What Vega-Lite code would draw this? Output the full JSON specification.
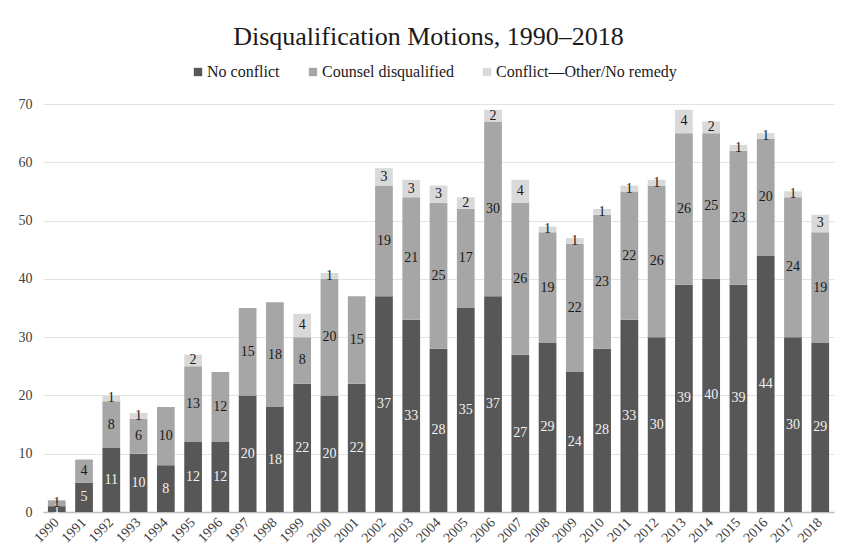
{
  "$schema": "https://vega.github.io/schema/vega-lite/v6.json",
  "autosize": {"type": "none"},
  "width": 791,
  "height": 408,
  "padding": {"left": 43, "top": 104, "right": 10, "bottom": 44},
  "background": "white",
  "config": {
    "font": "'Liberation Serif', 'DejaVu Serif', serif",
    "view": {"stroke": null}
  },
  "title": {
    "text": "Disqualification Motions, 1990–2018",
    "fontSize": 26,
    "fontWeight": "normal",
    "color": "#1a1a1a",
    "anchor": "middle",
    "dx": -10,
    "offset": 14
  },
  "data": {
    "values": [
      {"year": "1990", "cat": "No conflict", "k": 0, "n": 1},
      {"year": "1990", "cat": "Counsel disqualified", "k": 1, "n": 1},
      {"year": "1991", "cat": "No conflict", "k": 0, "n": 5},
      {"year": "1991", "cat": "Counsel disqualified", "k": 1, "n": 4},
      {"year": "1992", "cat": "No conflict", "k": 0, "n": 11},
      {"year": "1992", "cat": "Counsel disqualified", "k": 1, "n": 8},
      {"year": "1992", "cat": "Conflict—Other/No remedy", "k": 2, "n": 1},
      {"year": "1993", "cat": "No conflict", "k": 0, "n": 10},
      {"year": "1993", "cat": "Counsel disqualified", "k": 1, "n": 6},
      {"year": "1993", "cat": "Conflict—Other/No remedy", "k": 2, "n": 1},
      {"year": "1994", "cat": "No conflict", "k": 0, "n": 8},
      {"year": "1994", "cat": "Counsel disqualified", "k": 1, "n": 10},
      {"year": "1995", "cat": "No conflict", "k": 0, "n": 12},
      {"year": "1995", "cat": "Counsel disqualified", "k": 1, "n": 13},
      {"year": "1995", "cat": "Conflict—Other/No remedy", "k": 2, "n": 2},
      {"year": "1996", "cat": "No conflict", "k": 0, "n": 12},
      {"year": "1996", "cat": "Counsel disqualified", "k": 1, "n": 12},
      {"year": "1997", "cat": "No conflict", "k": 0, "n": 20},
      {"year": "1997", "cat": "Counsel disqualified", "k": 1, "n": 15},
      {"year": "1998", "cat": "No conflict", "k": 0, "n": 18},
      {"year": "1998", "cat": "Counsel disqualified", "k": 1, "n": 18},
      {"year": "1999", "cat": "No conflict", "k": 0, "n": 22},
      {"year": "1999", "cat": "Counsel disqualified", "k": 1, "n": 8},
      {"year": "1999", "cat": "Conflict—Other/No remedy", "k": 2, "n": 4},
      {"year": "2000", "cat": "No conflict", "k": 0, "n": 20},
      {"year": "2000", "cat": "Counsel disqualified", "k": 1, "n": 20},
      {"year": "2000", "cat": "Conflict—Other/No remedy", "k": 2, "n": 1},
      {"year": "2001", "cat": "No conflict", "k": 0, "n": 22},
      {"year": "2001", "cat": "Counsel disqualified", "k": 1, "n": 15},
      {"year": "2002", "cat": "No conflict", "k": 0, "n": 37},
      {"year": "2002", "cat": "Counsel disqualified", "k": 1, "n": 19},
      {"year": "2002", "cat": "Conflict—Other/No remedy", "k": 2, "n": 3},
      {"year": "2003", "cat": "No conflict", "k": 0, "n": 33},
      {"year": "2003", "cat": "Counsel disqualified", "k": 1, "n": 21},
      {"year": "2003", "cat": "Conflict—Other/No remedy", "k": 2, "n": 3},
      {"year": "2004", "cat": "No conflict", "k": 0, "n": 28},
      {"year": "2004", "cat": "Counsel disqualified", "k": 1, "n": 25},
      {"year": "2004", "cat": "Conflict—Other/No remedy", "k": 2, "n": 3},
      {"year": "2005", "cat": "No conflict", "k": 0, "n": 35},
      {"year": "2005", "cat": "Counsel disqualified", "k": 1, "n": 17},
      {"year": "2005", "cat": "Conflict—Other/No remedy", "k": 2, "n": 2},
      {"year": "2006", "cat": "No conflict", "k": 0, "n": 37},
      {"year": "2006", "cat": "Counsel disqualified", "k": 1, "n": 30},
      {"year": "2006", "cat": "Conflict—Other/No remedy", "k": 2, "n": 2},
      {"year": "2007", "cat": "No conflict", "k": 0, "n": 27},
      {"year": "2007", "cat": "Counsel disqualified", "k": 1, "n": 26},
      {"year": "2007", "cat": "Conflict—Other/No remedy", "k": 2, "n": 4},
      {"year": "2008", "cat": "No conflict", "k": 0, "n": 29},
      {"year": "2008", "cat": "Counsel disqualified", "k": 1, "n": 19},
      {"year": "2008", "cat": "Conflict—Other/No remedy", "k": 2, "n": 1},
      {"year": "2009", "cat": "No conflict", "k": 0, "n": 24},
      {"year": "2009", "cat": "Counsel disqualified", "k": 1, "n": 22},
      {"year": "2009", "cat": "Conflict—Other/No remedy", "k": 2, "n": 1},
      {"year": "2010", "cat": "No conflict", "k": 0, "n": 28},
      {"year": "2010", "cat": "Counsel disqualified", "k": 1, "n": 23},
      {"year": "2010", "cat": "Conflict—Other/No remedy", "k": 2, "n": 1},
      {"year": "2011", "cat": "No conflict", "k": 0, "n": 33},
      {"year": "2011", "cat": "Counsel disqualified", "k": 1, "n": 22},
      {"year": "2011", "cat": "Conflict—Other/No remedy", "k": 2, "n": 1},
      {"year": "2012", "cat": "No conflict", "k": 0, "n": 30},
      {"year": "2012", "cat": "Counsel disqualified", "k": 1, "n": 26},
      {"year": "2012", "cat": "Conflict—Other/No remedy", "k": 2, "n": 1},
      {"year": "2013", "cat": "No conflict", "k": 0, "n": 39},
      {"year": "2013", "cat": "Counsel disqualified", "k": 1, "n": 26},
      {"year": "2013", "cat": "Conflict—Other/No remedy", "k": 2, "n": 4},
      {"year": "2014", "cat": "No conflict", "k": 0, "n": 40},
      {"year": "2014", "cat": "Counsel disqualified", "k": 1, "n": 25},
      {"year": "2014", "cat": "Conflict—Other/No remedy", "k": 2, "n": 2},
      {"year": "2015", "cat": "No conflict", "k": 0, "n": 39},
      {"year": "2015", "cat": "Counsel disqualified", "k": 1, "n": 23},
      {"year": "2015", "cat": "Conflict—Other/No remedy", "k": 2, "n": 1},
      {"year": "2016", "cat": "No conflict", "k": 0, "n": 44},
      {"year": "2016", "cat": "Counsel disqualified", "k": 1, "n": 20},
      {"year": "2016", "cat": "Conflict—Other/No remedy", "k": 2, "n": 1},
      {"year": "2017", "cat": "No conflict", "k": 0, "n": 30},
      {"year": "2017", "cat": "Counsel disqualified", "k": 1, "n": 24},
      {"year": "2017", "cat": "Conflict—Other/No remedy", "k": 2, "n": 1},
      {"year": "2018", "cat": "No conflict", "k": 0, "n": 29},
      {"year": "2018", "cat": "Counsel disqualified", "k": 1, "n": 19},
      {"year": "2018", "cat": "Conflict—Other/No remedy", "k": 2, "n": 3}
    ]
  },
  "transform": [
    {"stack": "n", "groupby": ["year"], "sort": [{"field": "k", "order": "ascending"}], "as": ["v0", "v1"]},
    {"calculate": "(datum.v0 + datum.v1) / 2", "as": "mid"}
  ],
  "encoding": {
    "x": {
      "field": "year",
      "type": "ordinal",
      "title": null,
      "scale": {"paddingInner": 0.35, "paddingOuter": 0.18},
      "axis": {
        "labelAngle": -45,
        "labelAlign": "right",
        "labelBaseline": "middle",
        "labelFontSize": 14,
        "labelColor": "#404040",
        "labelPadding": 8,
        "ticks": false,
        "domainColor": "#bfbfbf",
        "domainWidth": 1.5
      }
    }
  },
  "layer": [
    {
      "mark": {"type": "bar"},
      "encoding": {
        "y": {
          "field": "v0",
          "type": "quantitative",
          "title": null,
          "scale": {"domain": [0, 70], "nice": false},
          "axis": {
            "values": [0, 10, 20, 30, 40, 50, 60, 70],
            "labelFontSize": 14,
            "labelColor": "#404040",
            "labelPadding": 11,
            "ticks": false,
            "domain": false,
            "gridColor": "#e3e3e3",
            "gridWidth": 1
          }
        },
        "y2": {"field": "v1"},
        "color": {
          "field": "cat",
          "type": "nominal",
          "scale": {
            "domain": ["No conflict", "Counsel disqualified", "Conflict—Other/No remedy"],
            "range": ["#575757", "#a6a6a6", "#d9d9d9"]
          },
          "legend": {
            "title": null,
            "orient": "none",
            "legendX": 147,
            "legendY": -40,
            "direction": "horizontal",
            "columns": 3,
            "symbolType": "square",
            "symbolSize": 70,
            "symbolStrokeWidth": 0,
            "labelFontSize": 16,
            "labelLimit": 400,
            "labelColor": "#1a1a1a",
            "labelOffset": 1,
            "columnPadding": 25
          }
        }
      }
    },
    {
      "mark": {"type": "text", "fontSize": 14, "baseline": "middle"},
      "encoding": {
        "y": {"field": "mid", "type": "quantitative"},
        "text": {"field": "n", "type": "quantitative"},
        "color": {
          "condition": {"test": "datum.k === 0", "value": "#f2f2f2"},
          "value": "#1a1a1a"
        }
      }
    }
  ]
}
